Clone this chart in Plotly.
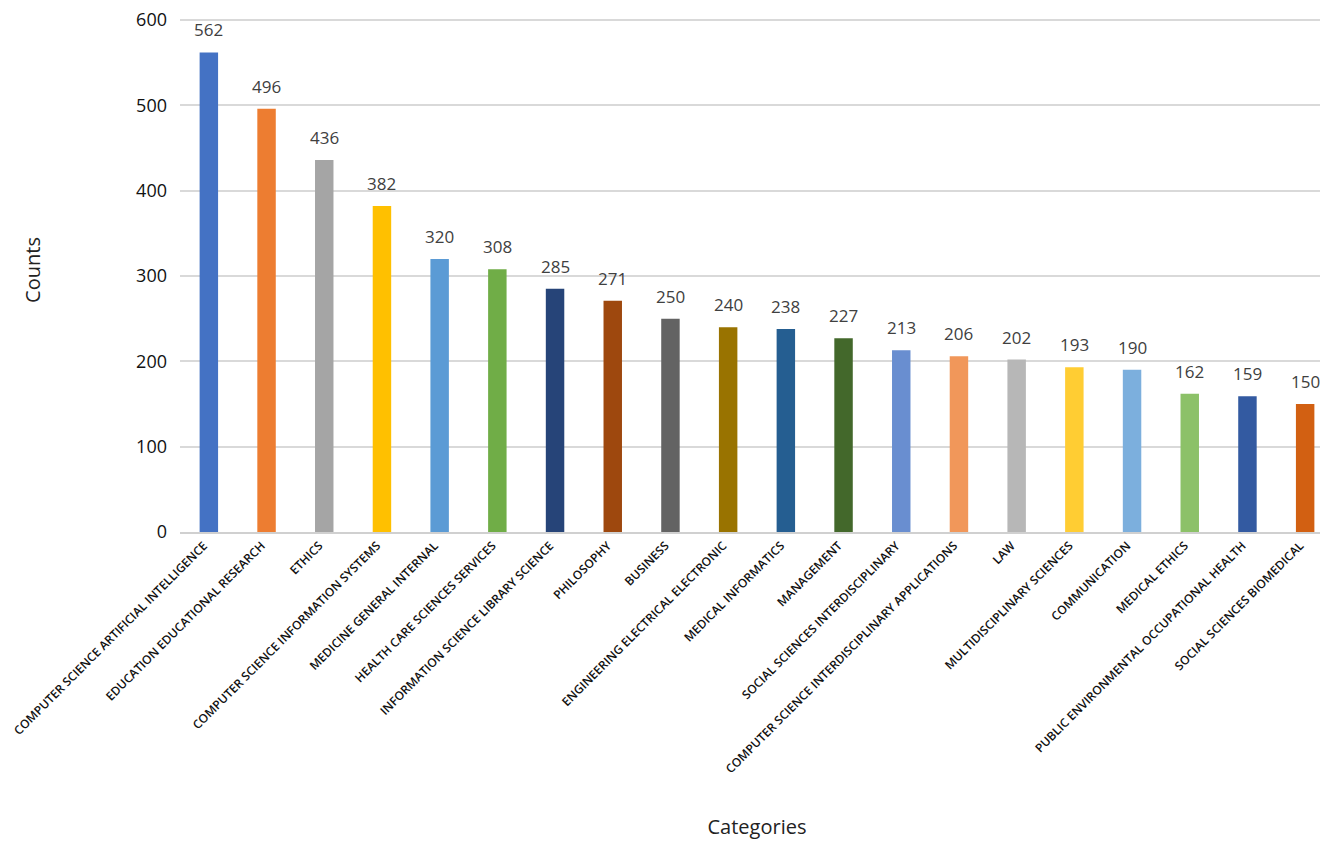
import plotly.graph_objects as go

# Categories and counts
categories = [
    'COMPUTER SCIENCE ARTIFICIAL INTELLIGENCE',
    'EDUCATION EDUCATIONAL RESEARCH',
    'ETHICS',
    'COMPUTER SCIENCE INFORMATION SYSTEMS',
    'MEDICINE GENERAL INTERNAL',
    'HEALTH CARE SCIENCES SERVICES',
    'INFORMATION SCIENCE LIBRARY SCIENCE',
    'PHILOSOPHY',
    'BUSINESS',
    'ENGINEERING ELECTRICAL ELECTRONIC',
    'MEDICAL INFORMATICS',
    'MANAGEMENT',
    'SOCIAL SCIENCES INTERDISCIPLINARY',
    'COMPUTER SCIENCE INTERDISCIPLINARY APPLICATIONS',
    'LAW',
    'MULTIDISCIPLINARY SCIENCES',
    'COMMUNICATION',
    'MEDICAL ETHICS',
    'PUBLIC ENVIRONMENTAL OCCUPATIONAL HEALTH',
    'SOCIAL SCIENCES BIOMEDICAL',
]
counts = [562, 496, 436, 382, 320, 308, 285, 271, 250, 240,
          238, 227, 213, 206, 202, 193, 190, 162, 159, 150]

# Office-style palette, one colour per bar
bar_colors = ['#4472C4', '#ED7D31', '#A5A5A5', '#FFC000', '#5B9BD5',
              '#70AD47', '#264478', '#9E480E', '#636363', '#997300',
              '#255E91', '#43682B', '#698ED0', '#F1975A', '#B7B7B7',
              '#FFCD33', '#7CAFDD', '#8CC168', '#335AA1', '#D26012']

fig = go.Figure()

fig.add_trace(
    go.Bar(x=categories,
           y=counts,
           marker=dict(color=bar_colors, line=dict(width=0)))
)

# Value labels sit a little higher above the bars than plotly's outside text
for cat, val in zip(categories, counts):
    fig.add_annotation(x=cat, y=val, text=str(val), showarrow=False,
                       yanchor='bottom', yshift=9,
                       font=dict(size=17, color='#404040'))

fig.update_layout(
    width=1328,
    height=842,
    plot_bgcolor='white',
    paper_bgcolor='white',
    showlegend=False,
    bargap=0.68,
    font=dict(family='Open Sans, sans-serif', color='#222222'),
    margin=dict(l=172, r=2, t=0, b=318),
    xaxis=dict(
        tickangle=-45,
        tickfont=dict(size=12, color='#111111', weight=600),
        ticklabelshift=-5,
        showline=True,
        linecolor='#d0d0d0',
        linewidth=2,
        ticks='',
        automargin=False,
        title=dict(text='Categories', font=dict(size=20, color='#222222'), standoff=44),
    ),
    yaxis=dict(
        range=[0, 614],
        dtick=100,
        showgrid=True,
        gridcolor='#d9d9d9',
        gridwidth=1.5,
        zeroline=False,
        tickfont=dict(size=18, color='#111111'),
        ticklabelstandoff=12,
        ticklabeloverflow='allow',
        automargin=False,
        title=dict(text='Counts', font=dict(size=20, color='#222222'), standoff=90),
    ),
)

fig.write_html('out.html')
